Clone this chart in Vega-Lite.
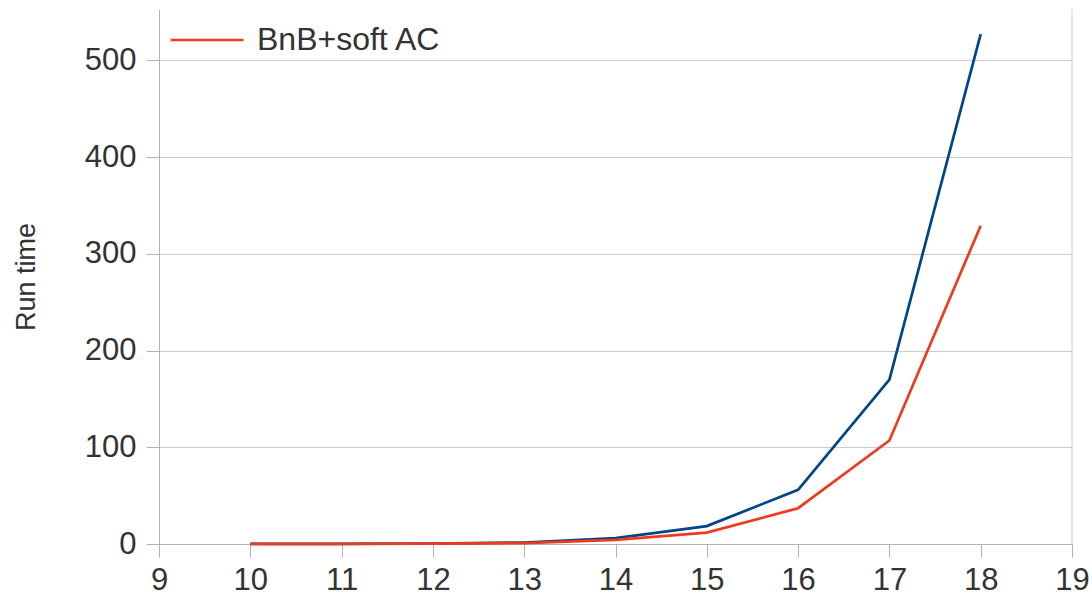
{
  "$schema": "https://vega.github.io/schema/vega-lite/v6.json",
  "autosize": "none",
  "width": 913,
  "height": 535,
  "padding": {"left": 159, "top": 9, "right": 20, "bottom": 58},
  "background": "white",
  "config": {
    "view": {"stroke": null},
    "font": "Liberation Sans",
    "axis": {
      "labelFont": "Liberation Sans",
      "titleFont": "Liberation Sans",
      "labelColor": "#333333",
      "titleColor": "#333333",
      "domainColor": "#b3b3b3",
      "tickColor": "#b3b3b3",
      "gridColor": "#cccccc",
      "tickSize": 13
    }
  },
  "datasets": {
    "runs": [
      {"n": 10, "series": "BnB", "time": 0.05},
      {"n": 11, "series": "BnB", "time": 0.15},
      {"n": 12, "series": "BnB", "time": 0.5},
      {"n": 13, "series": "BnB", "time": 1.5},
      {"n": 14, "series": "BnB", "time": 6},
      {"n": 15, "series": "BnB", "time": 18.5},
      {"n": 16, "series": "BnB", "time": 56},
      {"n": 17, "series": "BnB", "time": 170},
      {"n": 18, "series": "BnB", "time": 527},
      {"n": 10, "series": "BnB+soft AC", "time": 0.03},
      {"n": 11, "series": "BnB+soft AC", "time": 0.1},
      {"n": 12, "series": "BnB+soft AC", "time": 0.3},
      {"n": 13, "series": "BnB+soft AC", "time": 1},
      {"n": 14, "series": "BnB+soft AC", "time": 4.2},
      {"n": 15, "series": "BnB+soft AC", "time": 11.8},
      {"n": 16, "series": "BnB+soft AC", "time": 37},
      {"n": 17, "series": "BnB+soft AC", "time": 107},
      {"n": 18, "series": "BnB+soft AC", "time": 329}
    ],
    "border": [{"n": 19}]
  },
  "layer": [
    {
      "data": {"name": "runs"},
      "mark": {"type": "line", "strokeWidth": 2.7, "strokeJoin": "miter"},
      "encoding": {
        "x": {
          "field": "n", "type": "quantitative",
          "scale": {"domain": [9, 19], "nice": false, "zero": false},
          "axis": {
            "title": null, "grid": false, "format": "d",
            "values": [9, 10, 11, 12, 13, 14, 15, 16, 17, 18, 19],
            "labelFontSize": 31, "labelPadding": 8, "labelFlush": false
          }
        },
        "y": {
          "field": "time", "type": "quantitative",
          "scale": {"domain": [0, 553], "nice": false},
          "axis": {
            "title": "Run time", "titleFontSize": 27, "titleFontWeight": "normal",
            "titlePadding": 44, "format": "d",
            "values": [0, 100, 200, 300, 400, 500],
            "labelFontSize": 31, "labelPadding": 10, "grid": true
          }
        },
        "color": {
          "field": "series", "type": "nominal",
          "scale": {"domain": ["BnB", "BnB+soft AC"], "range": ["#004586", "#ec3b1e"]},
          "legend": {
            "values": ["BnB+soft AC"],
            "title": null,
            "orient": "none",
            "legendX": 10,
            "legendY": -7,
            "symbolType": "stroke",
            "symbolSize": 5300,
            "symbolStrokeWidth": 2.7,
            "labelFontSize": 32,
            "labelFont": "Liberation Sans",
            "labelColor": "#333333",
            "labelOffset": 12,
            "labelLimit": 400
          }
        }
      }
    },
    {
      "data": {"name": "border"},
      "mark": {"type": "rule", "color": "#cccccc", "strokeWidth": 1},
      "encoding": {"x": {"field": "n", "type": "quantitative"}}
    }
  ]
}
